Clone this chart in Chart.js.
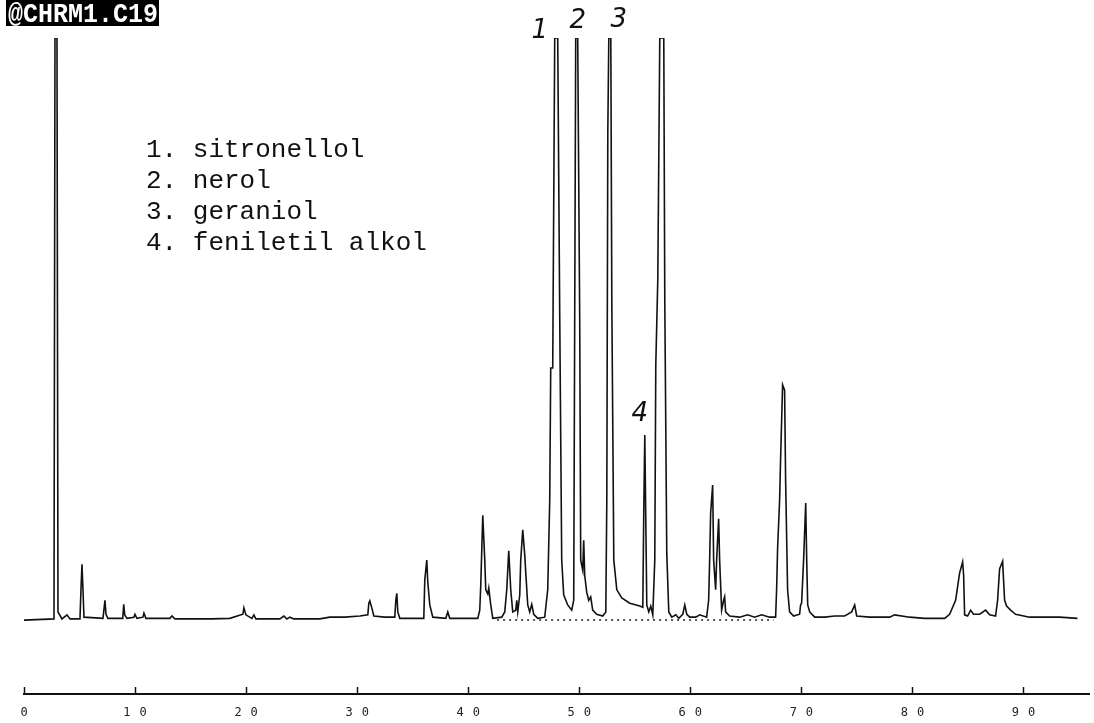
<!DOCTYPE html>
<html>
<head>
<meta charset="utf-8">
<script src="https://cdn.jsdelivr.net/npm/chart.js@4.4.1/dist/chart.umd.min.js"></script>
<style>
  html, body { margin: 0; padding: 0; background: #fff; }
  #chrom { display: block; }
</style>
</head>
<body>
<canvas id="chrom" width="1094" height="723"></canvas>
<script>
// retention time (min) and detector signal (% of full scale) of the trace vertices
const rtMin = [
  0.00, 2.70, 2.79, 2.97, 3.06, 3.42, 3.87, 4.14, 5.04, 5.13, 5.22, 5.31, 5.40,
  7.11, 7.29, 7.38, 7.56, 8.89, 8.98, 9.07, 9.27, 9.90, 9.99, 10.17, 10.71, 10.80, 10.98,
  13.14, 13.32, 13.59, 16.93, 18.54, 19.71, 19.80, 19.98, 20.52, 20.70, 20.88,
  23.04, 23.40, 23.67, 23.94, 24.30, 26.64, 27.54, 28.89, 30.24, 30.96, 31.05, 31.14, 31.32, 31.50,
  32.49, 33.39, 33.48, 33.57, 33.66, 33.84, 36.00, 36.09, 36.27, 36.36, 36.54, 36.81,
  37.98, 38.16, 38.34, 40.86, 41.04, 41.13, 41.31, 41.49, 41.58, 41.76, 41.85, 42.03, 42.21,
  43.02, 43.29, 43.47, 43.65, 43.83, 44.01, 44.28, 44.37, 44.46, 44.64, 44.73, 44.91, 45.09,
  45.18, 45.36, 45.54, 45.72, 45.90, 46.26, 46.89, 47.16, 47.34, 47.43, 47.61, 47.79, 48.06,
  48.24, 48.42, 48.60, 48.96, 49.32, 49.50, 49.59, 49.68, 49.86, 50.04, 50.13, 50.31, 50.40,
  50.49, 50.67, 50.85, 51.03, 51.21, 51.57, 52.11, 52.39, 52.48, 52.57, 52.66, 52.84, 52.93,
  53.11, 53.38, 53.83, 54.55, 55.45, 55.72, 55.81, 55.90, 55.99, 56.08, 56.26, 56.44, 56.62,
  56.80, 56.89, 57.07, 57.25, 57.61, 57.70, 57.88, 58.06, 58.33, 58.69, 58.96, 59.32, 59.50,
  59.68, 59.95, 60.49, 60.85, 61.47, 61.65, 61.74, 61.83, 62.01, 62.10, 62.28, 62.37, 62.55,
  62.64, 62.82, 63.00, 63.09, 63.18, 63.54, 64.44, 65.16, 65.79, 66.42, 67.14, 67.68, 67.77,
  67.86, 68.04, 68.13, 68.31, 68.49, 68.58, 68.76, 68.94, 69.30, 69.84, 69.93, 70.02, 70.20,
  70.39, 70.48, 70.57, 70.75, 71.20, 72.10, 73.00, 73.90, 74.53, 74.80, 74.98, 76.15, 77.95,
  78.40, 79.75, 81.10, 82.90, 83.35, 83.89, 84.25, 84.52, 84.61, 84.70, 84.97, 85.24, 85.51,
  86.05, 86.59, 86.95, 87.49, 87.67, 87.85, 88.12, 88.30, 88.48, 88.84, 89.29, 90.55, 91.90,
  93.25, 94.86
];
const signal = [
  0, 0.2, 100, 100, 1.4, 0.2, 0.9, 0.2, 0.2, 5.2, 9.6, 5.2, 0.5,
  0.3, 3.4, 1.0, 0.3, 0.3, 2.7, 0.9, 0.3, 0.5, 1.0, 0.3, 0.5, 1.2, 0.3,
  0.3, 0.7, 0.2, 0.2, 0.3, 1.0, 2.1, 0.9, 0.3, 0.9, 0.2,
  0.2, 0.7, 0.2, 0.5, 0.2, 0.2, 0.5, 0.5, 0.7, 0.9, 2.9, 3.3, 2.1, 0.7,
  0.5, 0.5, 3.4, 4.6, 1.4, 0.3, 0.3, 6.9, 10.3, 6.5, 2.6, 0.5,
  0.3, 1.4, 0.3, 0.3, 1.7, 6.0, 18.0, 10.3, 5.2, 4.5, 5.5, 2.6, 0.3,
  0.5, 1.4, 5.2, 11.9, 5.2, 1.4, 1.7, 3.4, 1.4, 4.3, 10.3, 15.5, 11.2,
  8.2, 2.6, 1.4, 2.7, 1.0, 0.3, 0.5, 5.2, 20.6, 43.3, 43.3, 100, 100,
  52.4, 10.3, 4.3, 2.6, 1.7, 3.4, 52.4, 100, 100, 51.5, 10.3, 8.6, 13.7,
  7.7, 4.8, 3.4, 4.0, 1.7, 1.0, 0.7, 1.4, 20.6, 83.8, 100, 100, 55.0,
  10.3, 5.2, 3.8, 2.9, 2.4, 2.2, 18.9, 31.8, 17.2, 2.6, 1.4, 2.4, 0.9,
  10.3, 43.8, 58.4, 100, 100, 55.0, 11.5, 1.4, 0.5, 0.9, 0.3, 1.0, 2.6,
  1.0, 0.5, 0.5, 0.9, 0.5, 3.4, 10.3, 18.4, 23.2, 10.3, 5.2, 10.3, 17.4,
  10.3, 1.7, 3.4, 4.0, 1.4, 0.7, 0.5, 0.9, 0.5, 0.9, 0.5, 0.5, 5.2,
  12.4, 20.6, 27.7, 40.4, 39.5, 24.1, 5.2, 1.4, 0.7, 1.0, 2.6, 2.9, 10.3,
  20.1, 10.3, 2.6, 1.4, 0.5, 0.5, 0.7, 0.7, 1.4, 2.6, 0.7, 0.5, 0.5,
  0.9, 0.5, 0.3, 0.3, 1.0, 3.4, 8.1, 10.0, 7.7, 0.9, 0.7, 1.7, 1.0,
  1.0, 1.7, 0.9, 0.7, 3.4, 8.8, 10.1, 3.4, 2.4, 1.7, 1.0, 0.5, 0.5,
  0.5, 0.3
];
// integrator baseline (dotted) under the main cluster
const baselineRt = [42.6, 67.5];
const baselineSignal = [0, 0];

const fileTag = '@CHRM1.C19';
const compoundList = ['1. sitronellol', '2. nerol', '3. geraniol', '4. feniletil alkol'];
const peakNumbers = ['1', '2', '3', '4'];

const decor = {
  id: 'decor',
  beforeDraw(chart) {
    // printer style spaced digits on the time axis
    chart.ctx.letterSpacing = '9px';
  },
  beforeDatasetsDraw(chart) {
    chart.ctx.letterSpacing = '0px';
  },
  afterDraw(chart) {
    const c = chart.ctx;
    const xs = chart.scales.x, ys = chart.scales.y;
    const bottom = chart.chartArea.bottom;
    c.save();
    c.letterSpacing = '0px';
    // upward tick marks on the time axis
    c.strokeStyle = '#111';
    c.lineWidth = 1.5;
    xs.ticks.forEach(t => {
      const px = Math.round(xs.getPixelForValue(t.value)) + 0.5;
      c.beginPath();
      c.moveTo(px, bottom);
      c.lineTo(px, bottom - 7);
      c.stroke();
    });

    // file tag, white on black
    c.fillStyle = '#000';
    c.fillRect(6, 0, 153, 26);
    c.fillStyle = '#fff';
    c.font = 'bold 25px "Liberation Mono"';
    c.textBaseline = 'alphabetic';
    c.save();
    c.translate(8, 22);
    c.scale(1, 1.12);
    c.fillText(fileTag, 0, 0);
    c.restore();

    // compound list
    c.fillStyle = '#111';
    c.font = '26px "Liberation Mono"';
    compoundList.forEach((s, i) => c.fillText(s, 146, 157 + i * 31));

    // handwritten peak numbers
    c.font = 'italic 26px "DejaVu Sans"';
    c.textAlign = 'center';
    c.textBaseline = 'middle';
    const spots = [[46.44, 101.2], [49.86, 102.9], [53.56, 103.1], [55.45, 35.4]];
    peakNumbers.forEach((s, i) => {
      c.fillText(s, xs.getPixelForValue(spots[i][0]), ys.getPixelForValue(spots[i][1]));
    });
    c.restore();
  }
};

const ctx = document.getElementById('chrom').getContext('2d');
new Chart(ctx, {
  type: 'line',
  data: {
    datasets: [{
      data: rtMin.map((t, i) => ({ x: t, y: signal[i] })),
      borderColor: '#111',
      borderWidth: 1.6,
      pointRadius: 0,
      tension: 0
    }, {
      data: baselineRt.map((t, i) => ({ x: t, y: baselineSignal[i] })),
      borderColor: '#222',
      borderWidth: 1.5,
      borderDash: [2, 4],
      pointRadius: 0
    }]
  },
  options: {
    responsive: false,
    animation: false,
    devicePixelRatio: 1,
    layout: { padding: { left: 24, right: 5, top: 38, bottom: 0 } },
    plugins: { legend: { display: false }, tooltip: { enabled: false } },
    scales: {
      x: {
        type: 'linear',
        min: 0,
        max: 95.9,
        afterFit(s) { s.height = 29; },
        grid: { display: false },
        border: { display: true, color: '#111', width: 2 },
        ticks: {
          stepSize: 10,
          includeBounds: false,
          autoSkip: false,
          maxRotation: 0,
          padding: 4,
          labelOffset: 4.5,
          color: '#222',
          font: { family: 'DejaVu Sans Mono', size: 12 }
        }
      },
      y: { display: false, min: -12.7, max: 100 }
    }
  },
  plugins: [decor]
});
</script>
</body>
</html>
